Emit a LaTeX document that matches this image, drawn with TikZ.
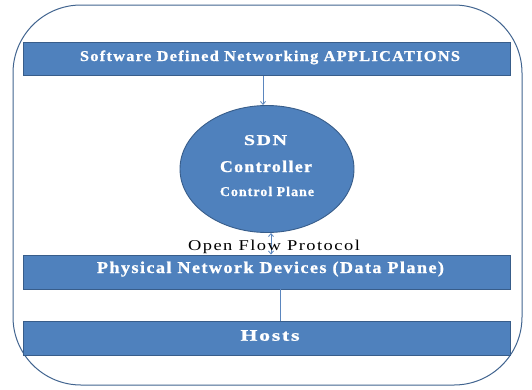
\documentclass[tikz,border=0pt]{standalone}
\usepackage{fontspec}
\usepackage{graphicx}
\setmainfont{Liberation Serif}
\usetikzlibrary{shapes.geometric,arrows.meta}
\definecolor{barfill}{HTML}{4F81BD}
\definecolor{barline}{HTML}{385D8A}
\definecolor{frameline}{HTML}{41648F}
\definecolor{linkcol}{HTML}{5B86BE}
% set a label at a given size and stretch it to a given width
\newcommand\spread[3]{\resizebox{#2}{\height}{\fontsize{#1}{#1}\selectfont\addfontfeatures{LetterSpace=8,FakeBold=1}#3}}
\newcommand\spreadplain[3]{\resizebox{#2}{\height}{\fontsize{#1}{#1}\selectfont\addfontfeatures{LetterSpace=8}#3}}
\tikzset{
  >={Straight Barb[length=3pt,width=5pt]},
  layer/.style={draw=barline, line width=0.9pt, fill=barfill, minimum width=487pt,
    inner sep=0pt},
  caption/.style={anchor=base, inner sep=0pt, text=white, font=\bfseries},
  link/.style={draw=linkcol, line width=0.8pt},
}
\begin{document}
\begin{tikzpicture}[x=1pt,y=-1pt]
  \useasboundingbox (0,0) rectangle (532,389);
  % outer frame
  \draw[frameline, line width=1pt, rounded corners=68pt] (13,5) rectangle (522,385);
  % layers
  \node[layer, minimum height=33pt] (apps) at (266.5,59) {};
  \node[layer, ellipse, minimum width=174pt, minimum height=127pt] (ctrl) at (267,169) {};
  \node[layer, minimum height=34pt] (phys) at (266.5,272) {};
  \node[layer, minimum height=34pt] (hosts) at (266.5,338.5) {};
  % labels
  \node[caption] (appsT) at (270,61) {\spread{15}{380pt}{Software Defined Networking APPLICATIONS}};
  \node[caption] (sdnT) at (265.5,145) {\spread{15}{43pt}{SDN}};
  \node[caption] (ctrlT) at (266,172) {\spread{16.5}{92pt}{Controller}};
  \node[caption] (cpT) at (267,196) {\spread{13.5}{94pt}{Control Plane}};
  \node[caption] (physT) at (270.5,273) {\spread{16.5}{347pt}{Physical Network Devices (Data Plane)}};
  \node[caption] (hostsT) at (270,340.7) {\spread{16}{59pt}{Hosts}};
  % connectors
  \coordinate (a1) at (263,0);
  \coordinate (a2) at (271,0);
  \coordinate (a3) at (280,0);
  \draw[link, ->] (apps.south -| a1) -- (ctrl.north -| a1);
  \draw[link, <->] (ctrl.south -| a2) -- (phys.north -| a2);
  \draw[link] (phys.south -| a3) -- (hosts.north -| a3);
  \node[anchor=base, inner sep=0pt] (ofp) at (274,250) {\spreadplain{15}{172pt}{Open Flow Protocol}};
\end{tikzpicture}
\end{document}
